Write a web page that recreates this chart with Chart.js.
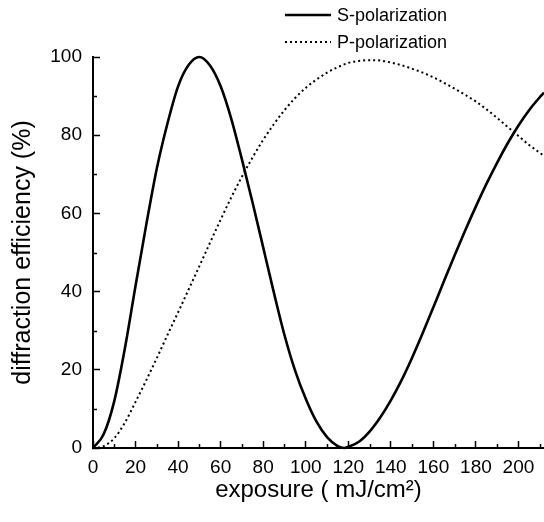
<!DOCTYPE html>
<html>
<head>
<meta charset="utf-8">
<script src="https://cdn.jsdelivr.net/npm/chart.js@4.4.1/dist/chart.umd.min.js"></script>
<style>
	html, body { margin: 0; padding: 0; background: #fff; }
	#wrap { width: 544px; height: 522px; }
</style>
</head>
<body>
<div id="wrap"><canvas id="myChart"></canvas></div>
<script>
// values
var exposure = [0, 5, 10, 15, 20, 25, 30, 35, 40, 45, 50, 55, 60, 65, 70, 75, 80, 85, 90, 95, 100,
	105, 110, 115, 118, 120, 125, 130, 135, 140, 145, 150, 155, 160, 165, 170, 175, 180, 185, 190,
	195, 200, 205, 210, 212];
var sPolar = [0, 3.5, 12, 25.5, 41.5, 57, 71.5, 83, 92.5, 98, 100, 97.8, 92.5, 84.2, 73.8, 62.8, 51.3, 39.8, 28.9, 19.8, 12.6,
	6.8, 2.8, 0.5, 0, 0.3, 1.6, 4.2, 7.8, 12.2, 17.3, 23.1, 29.4, 36, 42.7, 49.3, 55.7, 61.8, 67.6, 73,
	78, 82.5, 86.4, 89.7, 90.9];
var pPolar = [0, 0.5, 2.5, 6.5, 11.8, 17.3, 23, 28.9, 34.7, 40.6, 46.5, 52.5, 58.4, 64.1, 69.4, 74.3, 78.8, 82.8, 86.4, 89.5, 92.1,
	94.2, 96, 97.4, 98.1, 98.5, 99, 99.2, 99.1, 98.6, 97.9, 97, 96, 94.8, 93.4, 91.9, 90.3, 88.6, 86.6, 84.4,
	82.1, 79.8, 77.5, 75.5, 74.7];
var seriesNames = ['S-polarization', 'P-polarization'];

var xTicks = [0, 20, 40, 60, 80, 100, 120, 140, 160, 180, 200];
var xMinor = [10, 30, 50, 70, 90, 110, 130, 150, 170, 190, 210];
var yTicks = [0, 20, 40, 60, 80, 100];
var yMinor = [10, 30, 50, 70, 90];

var FONT = 'Arial, "Liberation Sans", Helvetica, sans-serif';

// minor ticks (Chart.js has no minor ticks of its own)
var minorTicks = {
	id: 'minorTicks',
	afterDraw: function(chart) {
		var ctx = chart.ctx;
		var xs = chart.scales.x, ys = chart.scales.y;
		var area = chart.chartArea;
		ctx.save();
		ctx.strokeStyle = '#000';
		ctx.lineWidth = 1.5;
		ctx.beginPath();
		xMinor.forEach(function(v) {
			var px = Math.round(xs.getPixelForValue(v)) + 0.5;
			ctx.moveTo(px, area.bottom);
			ctx.lineTo(px, area.bottom - 4);
		});
		yMinor.forEach(function(v) {
			var py = Math.round(ys.getPixelForValue(v)) + 0.5;
			ctx.moveTo(area.left, py);
			ctx.lineTo(area.left + 4, py);
		});
		ctx.stroke();
		ctx.restore();
	}
};

// legend in the top right corner, one entry per row
var cornerLegend = {
	id: 'cornerLegend',
	afterDraw: function(chart) {
		var ctx = chart.ctx;
		ctx.save();
		ctx.font = '18px ' + FONT;
		ctx.fillStyle = '#000';
		ctx.textBaseline = 'middle';
		chart.data.datasets.forEach(function(ds, i) {
			var y = 15 + i * 27;
			ctx.strokeStyle = '#000';
			ctx.lineWidth = ds.borderWidth;
			ctx.setLineDash(ds.borderDash || []);
			ctx.beginPath();
			ctx.moveTo(285, y);
			ctx.lineTo(331, y);
			ctx.stroke();
			ctx.fillText(ds.label, 337, y + 1);
		});
		ctx.restore();
	}
};

var ctx = document.getElementById('myChart').getContext('2d');
var myChart = new Chart(ctx, {
	type: 'line',
	data: {
		datasets: [
			{
				label: seriesNames[0],
				data: exposure.map(function(x, i) { return { x: x, y: sPolar[i] }; }),
				borderColor: '#000',
				borderWidth: 2.6,
				pointRadius: 0,
				cubicInterpolationMode: 'monotone',
				clip: false
			},
			{
				label: seriesNames[1],
				data: exposure.map(function(x, i) { return { x: x, y: pPolar[i] }; }),
				borderColor: '#000',
				borderWidth: 2,
				borderDash: [2, 3],
				pointRadius: 0,
				cubicInterpolationMode: 'monotone',
				clip: false
			}
		]
	},
	options: {
		responsive: true,
		maintainAspectRatio: false,
		animation: false,
		layout: { padding: { top: 57, right: 0, bottom: 0, left: 0 } },
		plugins: {
			legend: { display: false },
			tooltip: { enabled: false }
		},
		scales: {
			x: {
				type: 'linear',
				min: 0,
				max: 212,
				afterBuildTicks: function(scale) {
					scale.ticks = xTicks.map(function(v) { return { value: v }; });
				},
				afterFit: function(scale) {
					scale.height = 74;
					scale.paddingRight = 0;
				},
				grid: { drawOnChartArea: false, tickLength: -7, tickColor: '#000', tickWidth: 1.5 },
				border: { display: true, color: '#000', width: 2 },
				ticks: {
					includeBounds: false,
					padding: 15,
					maxRotation: 0,
					autoSkip: false,
					color: '#000',
					font: { family: FONT, size: 19 }
				},
				title: {
					display: true,
					text: 'exposure ( mJ/cm\u00b2)',
					color: '#000',
					font: { family: FONT, size: 24 },
					padding: { top: 0, bottom: 17 }
				}
			},
			y: {
				min: 0,
				max: 100,
				afterBuildTicks: function(scale) {
					scale.ticks = yTicks.map(function(v) { return { value: v }; });
				},
				afterFit: function(scale) { scale.width = 93; },
				grid: { drawOnChartArea: false, tickLength: -7, tickColor: '#000', tickWidth: 1.5 },
				border: { display: true, color: '#000', width: 2 },
				ticks: {
					padding: 18,
					color: '#000',
					font: { family: FONT, size: 19 }
				},
				title: {
					display: true,
					text: 'diffraction efficiency (%)',
					color: '#000',
					font: { family: FONT, size: 25 },
					padding: { top: 8, bottom: 0 }
				}
			}
		}
	},
	plugins: [minorTicks, cornerLegend]
});
</script>
</body>
</html>
